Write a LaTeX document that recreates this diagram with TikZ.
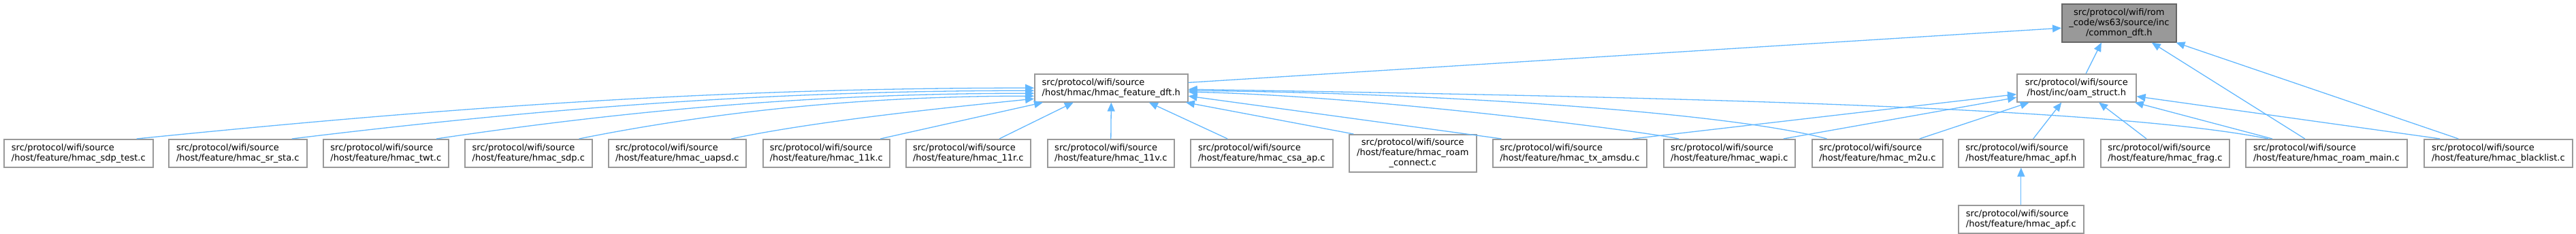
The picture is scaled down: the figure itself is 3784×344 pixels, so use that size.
\documentclass[tikz,border=0pt]{standalone}
\usepackage{fontspec}
\setmainfont{DejaVu Sans}
\usetikzlibrary{arrows.meta}
\definecolor{edgeblue}{HTML}{63B8FF}
\definecolor{boxline}{HTML}{999999}
\definecolor{rootfill}{HTML}{999999}
\definecolor{rootline}{HTML}{666666}

\begin{document}
\begin{tikzpicture}[x=1pt,y=-1pt,
    file/.style={draw=boxline,fill=white,line width=1.6pt,inner sep=0pt,anchor=north west,
                 minimum height=41pt,font=\fontsize{13}{15}\selectfont,align=left},
    dep/.style={edgeblue,line width=1.3pt,-{Triangle[length=13pt,width=11pt]}}]
  \useasboundingbox (0,0) rectangle (3784,344);
  % headers
  \node[file,fill=rootfill,draw=rootline,align=center,minimum width=168pt,minimum height=56pt] (common) at (3028,5)
    {src/protocol/wifi/rom\\\_code/ws63/source/inc\\/common\_dft.h};
  \node[file,minimum width=225pt] (featdft) at (1519,108) {src/protocol/wifi/source\\/host/hmac/hmac\_feature\_dft.h};
  \node[file,align=center,minimum width=175pt] (oam) at (2962,108) {src/protocol/wifi/source\\/host/inc/oam\_struct.h};
  % sources
  \foreach \n/\x/\w/\f in {sdptest/5/219/sdp\_test.c, srsta/247/203/sr\_sta.c, twt/474/184/twt.c,
                           sdp/682/187/sdp.c, uapsd/893/202/uapsd.c, h11k/1120/186/11k.c,
                           h11r/1330/183/11r.c, h11v/1538/186/11v.c, csaap/1748/209/csa\_ap.c,
                           txamsdu/2192/226/tx\_amsdu.c, wapi/2443/193/wapi.c, m2u/2661/192/m2u.c,
                           apfh/2876/184/apf.h, frag/3085/189/frag.c, roammain/3298/237/roam\_main.c,
                           blacklist/3560/218/blacklist.c}{
    \node[file,minimum width=\w pt] (\n) at (\x,204) {src/protocol/wifi/source\\/host/feature/hmac\_\f};
  }
  \node[file,align=center,minimum width=187pt,minimum height=55pt] (roamconnect) at (1981,197)
    {src/protocol/wifi/source\\/host/feature/hmac\_roam\\\_connect.c};
  \node[file,minimum width=184pt] (apfc) at (2876,301) {src/protocol/wifi/source\\/host/feature/hmac\_apf.c};

  % into common_dft.h
  \draw[dep] (featdft.4) -- (common.185);
  \draw[dep] (oam.57) -- (common.228);
  \draw[dep] (roammain.146) -- (common.329);
  \draw[dep] (blacklist.160) -- (common.341);
  % into hmac_feature_dft.h
  \draw[dep] (sdptest.14) .. controls +(400,-40) and +(-500,0) .. (featdft.180);
  \draw[dep] (srsta.15) .. controls +(330,-40) and +(-420,0) .. (featdft.182);
  \draw[dep] (twt.16) .. controls +(270,-40) and +(-330,0) .. (featdft.184);
  \draw[dep] (sdp.16) .. controls +(200,-40) and +(-250,0) .. (featdft.186);
  \draw[dep] (uapsd.15) .. controls +(120,-25) and +(-150,15) .. (featdft.188);
  \draw[dep] (h11k.15) -- (featdft.192);
  \draw[dep] (h11r.25) -- (featdft.201);
  \draw[dep] (h11v.north) -- (featdft.south);
  \draw[dep] (csaap.157) -- (featdft.339);
  \draw[dep] (roamconnect.162) -- (featdft.349);
  \draw[dep] (txamsdu.168) -- (featdft.354);
  \draw[dep] (wapi.164) .. controls +(-80,-15) and +(250,5) .. (featdft.357);
  \draw[dep] (m2u.164) .. controls +(-150,-40) and +(350,3) .. (featdft.358);
  \draw[dep] (roammain.166) .. controls +(-250,-50) and +(600,10) .. (featdft.359);
  % into oam_struct.h
  \draw[dep] (txamsdu.13) -- (oam.186);
  \draw[dep] (wapi.15) -- (oam.189);
  \draw[dep] (m2u.19) -- (oam.197);
  \draw[dep] (apfh.50) -- (oam.224);
  \draw[dep] (frag.142) -- (oam.327);
  \draw[dep] (roammain.165) -- (oam.346);
  \draw[dep] (blacklist.166) -- (oam.352);
  % into hmac_apf.h
  \draw[dep] (apfc) -- (apfh);
\end{tikzpicture}
\end{document}
